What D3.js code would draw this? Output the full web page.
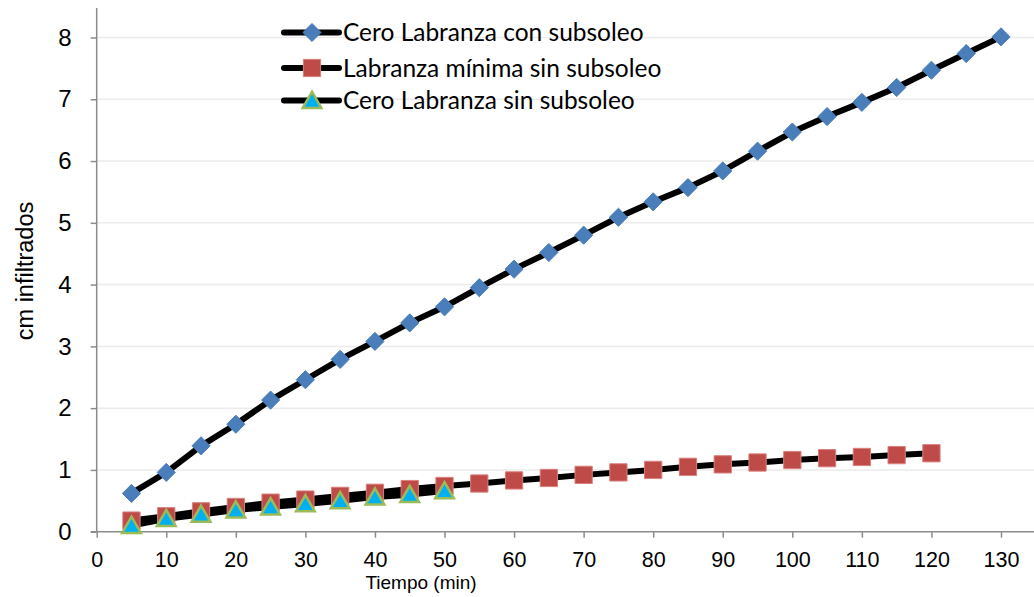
<!DOCTYPE html>
<html>
<head>
<meta charset="utf-8">
<script src="https://cdn.jsdelivr.net/npm/d3@7"></script>
<style>
  body { margin: 0; background: #fff; }
  svg { display: block; }
  .arial { font-family: "Liberation Sans", Arial, sans-serif; }
</style>
</head>
<body>
<div id="chart"></div>
<script>
// data
var tiempo = [5, 10, 15, 20, 25, 30, 35, 40, 45, 50, 55, 60, 65, 70, 75, 80, 85, 90, 95, 100, 105, 110, 115, 120, 125, 130];
var ceroConSubsoleo = [0.62, 0.96, 1.39, 1.74, 2.13, 2.46, 2.79, 3.08, 3.38, 3.64, 3.95, 4.25, 4.52, 4.80, 5.09, 5.34, 5.57, 5.84, 6.16, 6.47, 6.72, 6.95, 7.19, 7.47, 7.74, 8.01];
var minimaSinSubsoleo = [0.18, 0.25, 0.33, 0.40, 0.47, 0.52, 0.58, 0.63, 0.69, 0.74, 0.78, 0.83, 0.87, 0.92, 0.96, 1.00, 1.05, 1.09, 1.12, 1.16, 1.19, 1.21, 1.24, 1.27];
var ceroSinSubsoleo = [0.10, 0.21, 0.28, 0.35, 0.40, 0.45, 0.50, 0.56, 0.60, 0.66];
var xTicks = [0, 10, 20, 30, 40, 50, 60, 70, 80, 90, 100, 110, 120, 130];
var yTicks = [0, 1, 2, 3, 4, 5, 6, 7, 8];
var seriesNames = ["Cero Labranza con subsoleo", "Labranza mínima sin subsoleo", "Cero Labranza sin subsoleo"];

var w = 1034, h = 597;

var svg = d3.select("#chart").append("svg")
  .attr("width", w)
  .attr("height", h);

var x = d3.scaleLinear().domain([0, 130]).range([96.7, 1001]);
var y = d3.scaleLinear().domain([0, 8]).range([531.7, 37.5]);

// gridlines
svg.append("g")
  .selectAll("line")
  .data(yTicks.slice(1))
  .enter()
  .append("line")
  .attr("x1", x(0))
  .attr("x2", w)
  .attr("y1", function(d) { return y(d); })
  .attr("y2", function(d) { return y(d); })
  .attr("stroke", "#ebebeb")
  .attr("stroke-width", 1.5);

// y axis
var yAxis = svg.append("g")
  .attr("transform", "translate(" + x(0) + ",0)")
  .call(d3.axisLeft(y).tickValues(yTicks).tickSize(6).tickPadding(19).tickFormat(d3.format("d")));
yAxis.select(".domain").remove();
yAxis.append("line")
  .attr("x1", 0).attr("x2", 0)
  .attr("y1", 8).attr("y2", y(0))
  .attr("stroke", "#8c8c8c").attr("stroke-width", 1.5);

// x axis
var xAxis = svg.append("g")
  .attr("transform", "translate(0," + y(0) + ")")
  .call(d3.axisBottom(x).tickValues(xTicks).tickSize(6).tickPadding(14));
xAxis.select(".domain").remove();
xAxis.append("line")
  .attr("x1", x(0) - 6).attr("x2", w)
  .attr("y1", 0).attr("y2", 0)
  .attr("stroke", "#8c8c8c").attr("stroke-width", 1.5);

svg.selectAll(".tick line").attr("stroke", "#8c8c8c").attr("stroke-width", 1.5);
yAxis.attr("font-family", null).attr("font-size", null);
xAxis.attr("font-family", null).attr("font-size", null);
yAxis.selectAll(".tick text")
  .attr("class", "arial")
  .attr("fill", "#000")
  .style("font-size", "24px");
xAxis.selectAll(".tick text")
  .attr("class", "arial")
  .attr("fill", "#000")
  .style("font-size", "21.5px");

// axis titles
svg.append("text")
  .attr("class", "arial")
  .text("Tiempo (min)")
  .attr("x", 421)
  .attr("y", 589)
  .attr("text-anchor", "middle")
  .style("font-size", "19px")
  .attr("fill", "#000");

svg.append("text")
  .attr("class", "arial")
  .text("cm infiltrados")
  .attr("transform", "translate(33,271) rotate(-90)")
  .attr("text-anchor", "middle")
  .style("font-size", "23.5px")
  .attr("fill", "#000");

// lines and markers
var line = d3.line()
  .x(function(d) { return x(d[0]); })
  .y(function(d) { return y(d[1]); });

function pairs(vals) {
  return vals.map(function(v, i) { return [tiempo[i], v]; });
}

var series = [
  { name: seriesNames[0], data: pairs(ceroConSubsoleo), symbol: d3.symbolDiamond2, size: 210, fill: "#4a7ebb", stroke: "#4a7ebb", sw: 1, dy: 0 },
  { name: seriesNames[1], data: pairs(minimaSinSubsoleo), symbol: d3.symbolSquare2, size: 380, fill: "#be4b48", stroke: "#d9807e", sw: 1, dy: 0 },
  { name: seriesNames[2], data: pairs(ceroSinSubsoleo), symbol: d3.symbolTriangle2, size: 250, fill: "#00b0f0", stroke: "#9bbb59", sw: 2.5, dy: 2 }
];

function sym(s) {
  return d3.symbol().type(s.symbol).size(s.size)();
}

series.forEach(function(s) {
  svg.append("path")
    .datum(s.data)
    .attr("d", line)
    .attr("fill", "none")
    .attr("stroke", "#000")
    .attr("stroke-width", 6)
    .attr("stroke-linejoin", "round");
});

series.forEach(function(s) {
  svg.append("g")
    .selectAll("path")
    .data(s.data)
    .enter()
    .append("path")
    .attr("d", sym(s))
    .attr("transform", function(d) {
      return "translate(" + x(d[0]) + "," + (y(d[1]) + s.dy) + ")";
    })
    .attr("fill", s.fill)
    .attr("stroke", s.stroke)
    .attr("stroke-width", s.sw);
});

// legend
var legendY = [32.5, 68, 100.5];
var legend = svg.append("g");
series.forEach(function(s, i) {
  var g = legend.append("g").attr("transform", "translate(0," + legendY[i] + ")");
  g.append("line")
    .attr("x1", 284).attr("x2", 339)
    .attr("y1", 0).attr("y2", 0)
    .attr("stroke", "#000").attr("stroke-width", 6)
    .attr("stroke-linecap", "round");
  g.append("path")
    .attr("d", sym(s))
    .attr("transform", "translate(312," + s.dy + ")")
    .attr("fill", s.fill)
    .attr("stroke", s.stroke)
    .attr("stroke-width", s.sw);
  g.append("text")
    .text(s.name)
    .attr("x", 343)
    .attr("y", 0)
    .attr("dy", "0.35em")
    .style("font-family", "Lato, 'Open Sans', sans-serif")
    .style("font-size", "24.5px")
    .attr("fill", "#000");
});
</script>
</body>
</html>
